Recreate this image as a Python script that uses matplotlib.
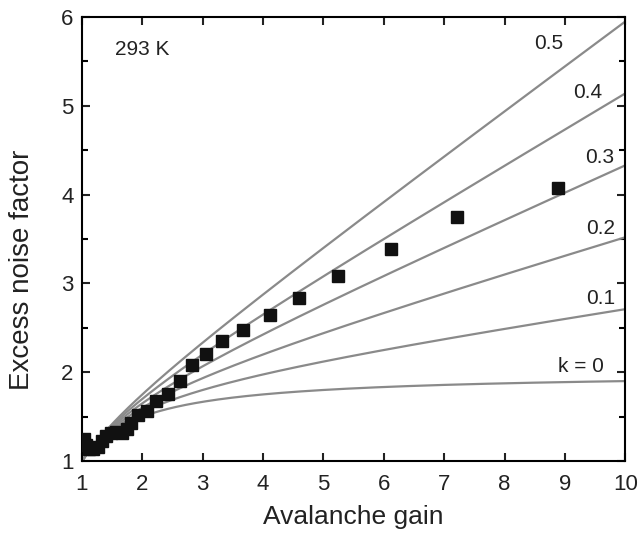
import numpy as np
import matplotlib
matplotlib.use("Agg")
import matplotlib.pyplot as plt
from matplotlib.ticker import MultipleLocator

plt.rcParams['font.family'] = ['Liberation Sans', 'DejaVu Sans']

# Measured excess noise factor vs avalanche gain at 293 K
gain = [1.04, 1.07, 1.12, 1.19, 1.26, 1.33, 1.40, 1.48, 1.57, 1.66, 1.74, 1.81,
        1.93, 2.08, 2.23, 2.42, 2.63, 2.83, 3.06, 3.32, 3.67, 4.12, 4.60, 5.24,
        6.12, 7.22, 8.88]
noise = [1.25, 1.18, 1.14, 1.13, 1.16, 1.22, 1.28, 1.32, 1.33, 1.31, 1.36, 1.43,
         1.52, 1.56, 1.68, 1.75, 1.90, 2.08, 2.21, 2.35, 2.48, 2.64, 2.84, 3.08,
         3.39, 3.75, 4.07]

# Ionisation coefficient ratios for the local-model curves
k_values = [0.0, 0.1, 0.2, 0.3, 0.4, 0.5]
k_labels = ["k = 0", "0.1", "0.2", "0.3", "0.4", "0.5"]
label_x = [9.27, 9.60, 9.60, 9.57, 9.38, 8.73]
label_y = [2.06, 2.83, 3.62, 4.42, 5.15, 5.70]

fig = plt.figure(figsize=(6.38, 5.34), dpi=100)
ax = fig.add_axes([0.1285, 0.1367, 0.98 - 0.1285, 0.968 - 0.1367])

M = np.linspace(1, 10, 400)
for k in k_values:
    F = k * M + (1 - k) * (2 - 1 / M)
    ax.plot(M, F, color='#8a8a8a', lw=1.6, zorder=2)

ax.plot(gain, noise, 's', color='#111111', ms=8.5, zorder=3)

for lab, lx, ly in zip(k_labels, label_x, label_y):
    ax.text(lx, ly, lab, ha='center', va='center', fontsize=15, color='#222222')

ax.text(2.0, 5.63, "293 K", ha='center', va='center', fontsize=15, color='#222222')

ax.set_xlim(1, 10)
ax.set_ylim(1, 6)
ax.xaxis.set_major_locator(MultipleLocator(1))
ax.yaxis.set_major_locator(MultipleLocator(1))
ax.yaxis.set_minor_locator(MultipleLocator(0.5))
ax.tick_params(which='both', direction='in', top=True, right=True, width=1.5)
ax.tick_params(which='major', length=6, labelsize=16, colors='#222222')
ax.tick_params(axis='x', which='major', pad=9)
ax.tick_params(axis='y', which='major', pad=6)
ax.tick_params(which='minor', length=4)
for s in ax.spines.values():
    s.set_linewidth(1.5)

ax.set_xlabel("Avalanche gain", fontsize=19, color='#222222')
ax.xaxis.set_label_coords(0.5, -0.100)
ax.set_ylabel("Excess noise factor", fontsize=20, color='#222222')
ax.yaxis.set_label_coords(-0.086, 0.43)

fig.savefig("out.png", dpi=100)
